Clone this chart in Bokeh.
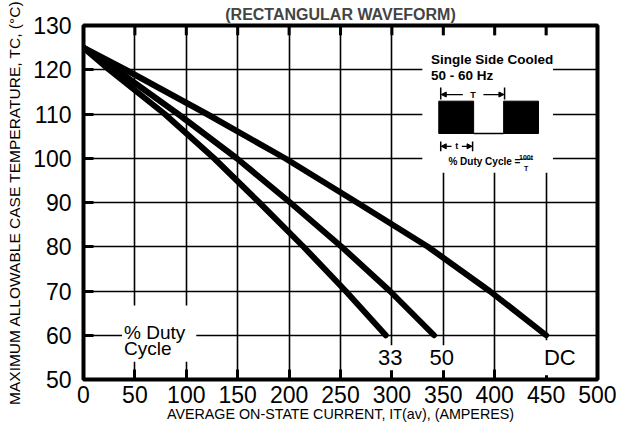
from bokeh.plotting import figure
from bokeh.models import Range1d, FixedTicker, Label, Arrow, NormalHead
from bokeh.embed import file_html
from bokeh.resources import INLINE

# ---------------- data ----------------
x_ticks = [0, 50, 100, 150, 200, 250, 300, 350, 400, 450, 500]
y_ticks = [50, 60, 70, 80, 90, 100, 110, 120, 130]

current_dc = [0, 41, 120, 196, 266, 335, 395, 450]
temp_dc = [125, 120, 110, 100, 90, 80, 70, 60]

current_50 = [0, 32, 92, 149, 201, 251, 298, 341]
temp_50 = [125, 120, 110, 100, 90, 80, 70, 60]

current_33 = [0, 25, 79, 127, 171, 214, 255, 294]
temp_33 = [125, 120, 110, 100, 90, 80, 70, 60]

curve_labels = ["33", "50", "DC"]

x_title = "AVERAGE ON-STATE CURRENT, IT(av), (AMPERES)"
y_title = "MAXIMUM ALLOWABLE CASE TEMPERATURE, TC, (°C)"
chart_title = "(RECTANGULAR WAVEFORM)"

FONT = "Liberation Sans"

# ---------------- figure ----------------
p = figure(width=616, height=427, x_range=Range1d(0, 500), y_range=Range1d(50, 130),
           output_backend="svg", toolbar_location=None,
           min_border_left=83, min_border_right=19, min_border_top=25, min_border_bottom=48)
p.background_fill_color = "white"
p.border_fill_color = "white"
p.outline_line_color = "black"
p.outline_line_width = 4

p.title.text = chart_title
p.title.align = "center"
p.title.text_font = FONT
p.title.text_font_size = "16px"
p.title.text_font_style = "bold"
p.title.standoff = 6

for ax in (p.xaxis[0], p.yaxis[0]):
    ax.axis_line_color = None
    ax.minor_tick_line_color = None
    ax.major_tick_line_color = "black"
    ax.major_tick_line_width = 3
    ax.major_tick_in = 10
    ax.major_tick_out = 0
    ax.major_label_text_font = FONT
    ax.major_label_text_font_size = "23px"
    ax.major_label_text_color = "black"
    ax.axis_label_text_font = FONT
    ax.axis_label_text_font_style = "normal"
    ax.axis_label_text_color = "black"
p.xaxis.ticker = FixedTicker(ticks=x_ticks)
p.yaxis.ticker = FixedTicker(ticks=y_ticks)
p.xaxis.major_label_standoff = 6
p.yaxis.major_label_standoff = 12
p.xaxis.axis_label = x_title
p.xaxis.axis_label_text_font_size = "14.3px"
p.xaxis.axis_label_standoff = 0
p.yaxis.axis_label = y_title
p.yaxis.axis_label_text_font_size = "15.5px"
p.yaxis.axis_label_standoff = 7

p.xgrid.ticker = FixedTicker(ticks=x_ticks)
p.ygrid.ticker = FixedTicker(ticks=y_ticks)
for g in (p.xgrid[0], p.ygrid[0]):
    g.grid_line_color = "black"
    g.grid_line_width = 1.6
    g.grid_line_alpha = 1.0

# white areas that interrupt the grid (inset and "% Duty Cycle" note)
p.quad(left=[329.6, 37.5], right=[456.7, 109.7], top=[127.8, 66.7], bottom=[96.7, 54],
       fill_color="white", line_color=None)

# top inward ticks
p.segment(x0=x_ticks, y0=[130] * len(x_ticks), x1=x_ticks, y1=[127.8] * len(x_ticks),
          line_color="black", line_width=3)

# ---------------- curves ----------------
for xs, ys in ((current_dc, temp_dc), (current_50, temp_50), (current_33, temp_33)):
    p.line(xs, ys, line_color="black", line_width=6, line_cap="round", line_join="round")


def lab(x, y, text, size, bold=False, align="left", baseline="alphabetic", bg=None, pad=0):
    kw = dict(x=x, y=y, text=text, text_font=FONT, text_font_size=size,
              text_font_style="bold" if bold else "normal", text_color="black",
              text_align=align, text_baseline=baseline)
    if bg:
        kw.update(background_fill_color=bg, background_fill_alpha=1, padding=pad)
    p.add_layout(Label(**kw))


# curve end labels
for txt, lx in zip(curve_labels, [298.5, 348.4, 463.3]):
    lab(lx, 54.9, txt, "22px", align="center", bg="white", pad=5)

lab(39.5, 60.67, "% Duty", "19px")
lab(39.5, 57.1, "Cycle", "19px")

# inset: cooling note and waveform sketch
lab(338, 122.4, "Single Side Cooled", "13.5px", bold=True)
lab(338, 118.7, "50 - 60 Hz", "13.5px", bold=True)
p.quad(left=[345.6, 408.7], right=[379.5, 442.6], top=[112.9, 112.9], bottom=[105.6, 105.6],
       fill_color="black", line_color="black")
p.segment(x0=[379.5], y0=[105.6], x1=[408.7], y1=[105.6], line_color="black", line_width=1.5)
p.segment(x0=[347.5, 409.6, 347.5, 378.5], y0=[116, 116, 103.8, 103.8],
          x1=[347.5, 409.6, 347.5, 378.5], y1=[113.3, 113.3, 101.6, 101.6],
          line_color="black", line_width=1.5)
for xs, xe, yy in ((369, 348, 114.4), (389, 409, 114.4), (358, 348, 102.7), (368, 378, 102.7)):
    p.add_layout(Arrow(end=NormalHead(size=5, fill_color="black", line_color="black"),
                       x_start=xs, y_start=yy, x_end=xe, y_end=yy, line_color="black", line_width=1.2))
lab(379, 114.4, "T", "9px", bold=True, align="center", baseline="middle")
lab(363, 102.7, "t", "9px", bold=True, align="center", baseline="middle")
lab(355, 99.3, "% Duty Cycle =", "10px", bold=True)
lab(430.5, 100.2, "100t", "7px", bold=True, align="center")
p.segment(x0=[424.5], y0=[99.8], x1=[436.5], y1=[99.8], line_color="black", line_width=1)
lab(430.5, 97.7, "T", "7px", bold=True, align="center")

open("out.html", "w").write(file_html(p, INLINE))
